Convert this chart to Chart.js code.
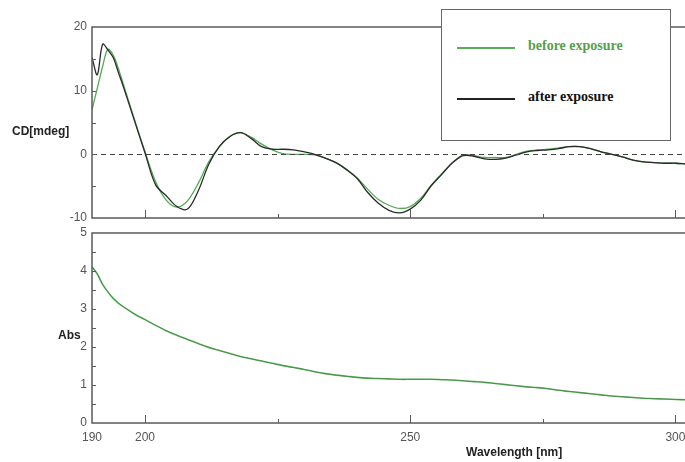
<!DOCTYPE html>
<html lang="en">
<head>
<meta charset="UTF-8">
<title>CD / Abs spectra</title>
<script src="https://cdn.jsdelivr.net/npm/chart.js"></script>
<style>
body { margin: 0; width: 685px; height: 462px; overflow: hidden; background: #fff; font-family: "Liberation Sans", Arial, sans-serif; position: relative; }
.box { position: absolute; }
#topWrap { left: 0; top: 0; width: 686px; height: 232px; }
#botWrap { left: 0; top: 220px; width: 686px; height: 242px; }
.axtitle { position: absolute; font-weight: bold; font-size: 12px; color: #222; white-space: nowrap; }
.legend { position: absolute; left: 441px; top: 9px; width: 228px; height: 130px; background: #fff; border: 1px solid #666; z-index: 5; }
.legend .row { position: absolute; left: 15px; height: 16px; }
.legend .ln { position: absolute; left: 0; top: 7px; width: 58px; height: 2px; }
.legend .tx { position: absolute; left: 71px; top: -2px; font-family: "Liberation Serif", "Times New Roman", serif; font-weight: bold; font-size: 14px; white-space: nowrap; }
</style>
</head>
<body>

<div id="topWrap" class="box"><canvas id="cdChart"></canvas></div>
<div id="botWrap" class="box"><canvas id="absChart"></canvas></div>

<div class="axtitle" style="left:12px; top:124px;">CD[mdeg]</div>
<div class="axtitle" style="left:58px; top:328px;">Abs</div>
<div class="axtitle" style="left:466px; top:445px;">Wavelength [nm]</div>

<div class="legend">
    <div class="row" style="top:30px;"><div class="ln" style="background:#55ad55;"></div><div class="tx" style="color:#56a04c;">before exposure</div></div>
    <div class="row" style="top:81px;"><div class="ln" style="background:#222;"></div><div class="tx" style="color:#111;">after exposure</div></div>
</div>

<script>
// wavelength grid (nm)
const wavelength = [190,191,192,193,194,195,196,198,200,202,204,206,208,210,212,214,216,218,220,222,224,226,228,230,232,234,236,238,240,242,244,246,248,250,252,254,256,258,260,262,264,266,268,270,272,274,276,278,280,282,284,286,288,290,292,294,296,298,300,302];

// CD [mdeg]
const cdBefore = [7.0,10.4,13.8,16.5,15.6,13.4,10.8,5.5,0.4,-4.3,-7.2,-8.3,-7.3,-4.6,-1.2,1.2,2.8,3.4,2.7,1.6,0.7,0.1,0.0,0.0,-0.1,-0.6,-1.3,-2.4,-3.7,-5.5,-7.1,-8.0,-8.5,-8.2,-6.9,-4.8,-3.0,-1.3,-0.1,-0.2,-0.5,-0.5,-0.5,0.0,0.5,0.7,0.8,1.0,1.2,1.2,0.9,0.4,0.0,-0.4,-0.9,-1.2,-1.3,-1.4,-1.4,-1.5];
const cdAfter = [15.2,12.5,17.3,16.4,15.2,12.8,10.4,5.3,0.2,-4.8,-6.5,-8.2,-8.6,-5.8,-1.6,1.2,2.8,3.4,2.5,1.2,0.8,0.8,0.7,0.4,0.0,-0.6,-1.3,-2.4,-3.8,-6.0,-7.7,-8.8,-9.2,-8.6,-7.2,-4.9,-3.1,-1.3,-0.2,-0.3,-0.7,-0.8,-0.6,-0.1,0.4,0.6,0.7,0.9,1.2,1.2,0.9,0.4,0.0,-0.4,-0.9,-1.2,-1.3,-1.4,-1.4,-1.5];

// absorbance
const absBefore = [4.11,3.92,3.65,3.45,3.28,3.15,3.05,2.87,2.72,2.57,2.43,2.31,2.20,2.09,1.99,1.91,1.83,1.75,1.69,1.63,1.57,1.51,1.46,1.41,1.35,1.30,1.26,1.23,1.20,1.18,1.17,1.16,1.15,1.15,1.15,1.15,1.14,1.13,1.11,1.09,1.07,1.04,1.01,0.98,0.95,0.93,0.90,0.86,0.83,0.80,0.77,0.74,0.71,0.69,0.67,0.65,0.64,0.63,0.62,0.61];
const absAfter = [4.12,3.93,3.64,3.45,3.28,3.16,3.05,2.87,2.72,2.57,2.43,2.31,2.20,2.09,1.99,1.91,1.83,1.75,1.69,1.63,1.57,1.51,1.46,1.41,1.35,1.30,1.26,1.23,1.20,1.18,1.17,1.16,1.15,1.15,1.15,1.15,1.14,1.13,1.11,1.09,1.07,1.04,1.01,0.98,0.95,0.93,0.90,0.86,0.83,0.80,0.77,0.74,0.71,0.69,0.67,0.65,0.64,0.63,0.62,0.61];

// tick labels
const xTickLabels = [190, 200, 250, 300];
const xMinorTicks = [225, 275];
const cdTickLabels = [-10, 0, 10, 20];
const absTickLabels = [0, 1, 2, 3, 4, 5];

const GREEN = '#52ab52';
const BLACK = '#2a2a2a';
const AXIS = '#5a5a5a';
const TICKFONT = { family: '"Liberation Sans", Arial, sans-serif', size: 12 };

function pts(ys) {
    return wavelength.map((x, i) => ({ x: x, y: ys[i] }));
}

// frame + inward ticks (+ optional dashed zero line)
function framePlugin(yMinorStep, drawZero) {
    return {
        id: 'frame',
        afterDatasetsDraw(chart) {
            const ctx = chart.ctx, a = chart.chartArea;
            const xs = chart.scales.x, ys = chart.scales.y;
            ctx.save();
            if (drawZero) {
                ctx.strokeStyle = '#444';
                ctx.lineWidth = 1.2;
                ctx.setLineDash([5, 4]);
                const y0 = Math.round(ys.getPixelForValue(0)) + 0.5;
                ctx.beginPath(); ctx.moveTo(a.left, y0); ctx.lineTo(a.right, y0); ctx.stroke();
                ctx.setLineDash([]);
            }
            ctx.strokeStyle = AXIS;
            ctx.lineWidth = 1.5;
            ctx.beginPath();
            ctx.moveTo(a.right + 2, a.top); ctx.lineTo(a.left, a.top);
            ctx.lineTo(a.left, a.bottom); ctx.lineTo(a.right + 2, a.bottom);
            ctx.stroke();
            ctx.lineWidth = 1;
            ctx.beginPath();
            // x ticks from the bottom axis
            xTickLabels.forEach(v => {
                if (v === xs.min) return;
                const px = Math.round(xs.getPixelForValue(v)) + 0.5;
                ctx.moveTo(px, a.bottom); ctx.lineTo(px, a.bottom - 8);
            });
            xMinorTicks.forEach(v => {
                const px = Math.round(xs.getPixelForValue(v)) + 0.5;
                ctx.moveTo(px, a.bottom); ctx.lineTo(px, a.bottom - 4);
            });
            // y ticks from the left axis
            for (let v = ys.min + yMinorStep; v < ys.max - 1e-6; v += yMinorStep) {
                const py = Math.round(ys.getPixelForValue(v)) + 0.5;
                ctx.moveTo(a.left, py); ctx.lineTo(a.left + 4, py);
            }
            ctx.stroke();
            ctx.restore();
        }
    };
}

const cdChart = new Chart(document.getElementById('cdChart'), {
    type: 'line',
    data: {
        datasets: [
            { label: 'after exposure', data: pts(cdAfter), borderColor: BLACK, borderWidth: 1.3, pointRadius: 0, tension: 0.35, fill: false },
            { label: 'before exposure', data: pts(cdBefore), borderColor: GREEN, borderWidth: 1.3, pointRadius: 0, tension: 0.35, fill: false }
        ]
    },
    options: {
        responsive: true,
        maintainAspectRatio: false,
        animation: false,
        layout: { padding: { top: 27, right: 0, bottom: 14, left: 0 } },
        plugins: { legend: { display: false }, tooltip: { enabled: false } },
        scales: {
            x: { type: 'linear', min: 190, max: 302, display: false },
            y: {
                min: -10, max: 20,
                grid: { display: false, drawTicks: false },
                border: { display: false },
                afterFit: s => { s.width = 92; },
                afterBuildTicks: s => { s.ticks = cdTickLabels.map(v => ({ value: v })); },
                ticks: { padding: 5, color: '#555', font: TICKFONT }
            }
        }
    },
    plugins: [framePlugin(5, true)]
});

const absChart = new Chart(document.getElementById('absChart'), {
    type: 'line',
    data: {
        datasets: [
            { label: 'after exposure', data: pts(absAfter), borderColor: 'rgba(40,40,40,0.6)', borderWidth: 0.5, pointRadius: 0, tension: 0.35, fill: false },
            { label: 'before exposure', data: pts(absBefore), borderColor: '#5cb85c', borderWidth: 1.6, pointRadius: 0, tension: 0.35, fill: false }
        ]
    },
    options: {
        responsive: true,
        maintainAspectRatio: false,
        animation: false,
        layout: { padding: { top: 13, right: 0, bottom: 0, left: 0 } },
        plugins: { legend: { display: false }, tooltip: { enabled: false } },
        scales: {
            x: {
                type: 'linear', min: 190, max: 302,
                grid: { display: false, drawTicks: false },
                border: { display: false },
                afterFit: s => { s.height = 39; s.paddingLeft = 0; s.paddingRight = 0; },
                afterBuildTicks: s => { s.ticks = xTickLabels.map(v => ({ value: v })); },
                ticks: { padding: 7, color: '#555', font: TICKFONT, autoSkip: false, maxRotation: 0 }
            },
            y: {
                min: 0, max: 5,
                grid: { display: false, drawTicks: false },
                border: { display: false },
                afterFit: s => { s.width = 92; },
                afterBuildTicks: s => { s.ticks = absTickLabels.map(v => ({ value: v })); },
                ticks: { padding: 5, color: '#555', font: TICKFONT }
            }
        }
    },
    plugins: [framePlugin(0.5, false)]
});
</script>
</body>
</html>
